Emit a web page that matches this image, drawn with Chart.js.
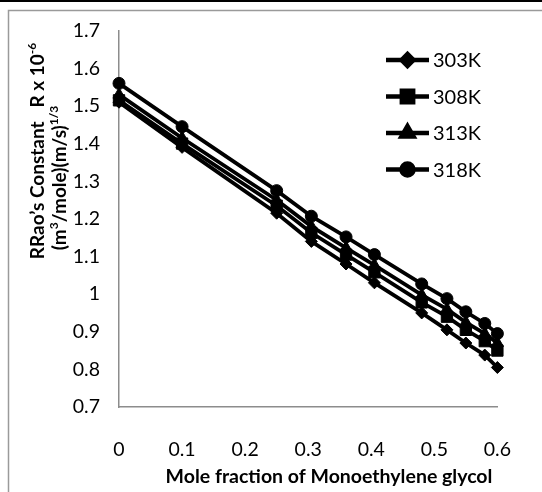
<!DOCTYPE html>
<html>
<head>
<meta charset="utf-8">
<script src="https://cdn.jsdelivr.net/npm/chart.js@4/dist/chart.umd.min.js"></script>
<style>
  html,body{margin:0;padding:0;background:#fff;}
  #wrap{width:542px;height:492px;position:relative;}
</style>
</head>
<body>
<div id="wrap"><canvas id="c" width="542" height="492"></canvas></div>
<script>
// mole fraction of monoethylene glycol
const xFraction = [0, 0.1, 0.25, 0.305, 0.36, 0.405, 0.48, 0.52, 0.55, 0.58, 0.6];
// Rao's constant R x 10^-6 at each temperature
const r303 = [1.51, 1.39, 1.215, 1.14, 1.08, 1.03, 0.95, 0.905, 0.87, 0.838, 0.805];
const r308 = [1.515, 1.40, 1.235, 1.163, 1.105, 1.058, 0.978, 0.94, 0.905, 0.875, 0.85];
const r313 = [1.53, 1.415, 1.25, 1.18, 1.123, 1.077, 0.998, 0.96, 0.925, 0.895, 0.87];
const r318 = [1.56, 1.445, 1.275, 1.207, 1.152, 1.105, 1.027, 0.988, 0.953, 0.922, 0.895];
const seriesNames = ["303K", "308K", "313K", "318K"];
const xTickLabels = ["0", "0.1", "0.2", "0.3", "0.4", "0.5", "0.6"];
const yTickLabels = ["0.7", "0.8", "0.9", "1", "1.1", "1.2", "1.3", "1.4", "1.5", "1.6", "1.7"];

const FONT = "Lato";
const pts = arr => arr.map((v, i) => ({x: xFraction[i], y: v}));
const findLabel = (list, v) => list.find(l => Math.abs(+l - v) < 1e-6) ?? "";

function ds(label, data, style, radius){
  return {label, data: pts(data), borderColor:"#000", backgroundColor:"#000",
    borderWidth:3.8, pointStyle:style, pointRadius:radius, pointHoverRadius:radius,
    pointBorderWidth:1, clip:false, tension:0};
}

/* ---------- frame, axis titles, legend ---------- */
const extras = {
  id:"extras",
  beforeDraw(chart){
    const c = chart.ctx;
    c.save();
    c.fillStyle="#fff"; c.fillRect(0,0,chart.width,chart.height);
    c.fillStyle="#000"; c.fillRect(0,0,chart.width,2);
    c.strokeStyle="#9a9a9a"; c.lineWidth=1.5;
    c.beginPath(); c.moveTo(chart.width,10.5); c.lineTo(8.5,10.5); c.lineTo(8.5,chart.height); c.stroke();
    c.restore();
  },
  afterDraw(chart){
    const c = chart.ctx;
    c.save();
    c.fillStyle="#000";
    // x title
    c.font=`bold 19.5px ${FONT}`; c.textAlign="center"; c.textBaseline="middle";
    c.fillText("Mole fraction of Monoethylene glycol", 329, 477);
    // y title (two lines, rotated, with superscripts)
    drawRich(c, [["RRao’s Constant   R x 10"],["-6",1]], 37, 151, 19);
    drawRich(c, [["(m"],["3",1],["/mole)(m/s)"],["1/3",1]], 59, 178, 19);
    // legend
    chart.data.datasets.forEach((d, i) => {
      const y = 60 + i*36.5;
      c.strokeStyle="#000"; c.lineWidth=4.5;
      c.beginPath(); c.moveTo(386,y); c.lineTo(429,y); c.stroke();
      Chart.helpers.drawPoint(c, {pointStyle:d.pointStyle, radius:d.pointRadius, rotation:0, borderWidth:1}, 407.5, y);
      c.fillStyle="#000"; c.font=`20px ${FONT}`; c.textAlign="left"; c.textBaseline="middle";
      c.fillText(d.label, 433, y+1);
    });
    c.restore();
  }
};

function drawRich(c, parts, cx, cy, size){
  const f = p => `bold ${p[1] ? Math.round(size*0.62) : size}px ${FONT}`;
  let total = 0;
  parts.forEach(p => { c.font=f(p); total += c.measureText(p[0]).width; });
  c.save();
  c.translate(cx, cy); c.rotate(-Math.PI/2);
  c.textAlign="left"; c.textBaseline="alphabetic";
  let x = -total/2;
  parts.forEach(p => {
    c.font=f(p);
    c.fillText(p[0], x, p[1] ? size*0.35 - size*0.42 : size*0.35);
    x += c.measureText(p[0]).width;
  });
  c.restore();
}

Chart.defaults.font.family = FONT;
Chart.defaults.color = "#000";

new Chart(document.getElementById("c"), {
  type:"line",
  data:{datasets:[
    ds(seriesNames[0], r303, "rectRot", 6),
    ds(seriesNames[1], r308, "rect", 8),
    ds(seriesNames[2], r313, "triangle", 7),
    ds(seriesNames[3], r318, "circle", 6)
  ]},
  options:{
    responsive:false, animation:false, events:[],
    layout:{padding:{left:0, top:28, right:29, bottom:0}},
    plugins:{legend:{display:false}, tooltip:{enabled:false}},
    scales:{
      x:{type:"linear", min:0, max:0.6,
        grid:{display:false, drawTicks:false},
        border:{display:true, color:"#8c8c8c", width:1.5},
        ticks:{stepSize:0.1, padding:31, font:{size:19.5}, maxRotation:0,
          callback:v => findLabel(xTickLabels, v)},
        afterFit:s => { s.height = 85; }
      },
      y:{min:0.7, max:1.7,
        grid:{display:false, drawTicks:false},
        border:{display:true, color:"#8c8c8c", width:1.5},
        ticks:{stepSize:0.1, padding:19, font:{size:19.5},
          callback:v => findLabel(yTickLabels, v)},
        afterFit:s => { s.width = 119; }
      }
    }
  },
  plugins:[extras]
});
</script>
</body>
</html>
